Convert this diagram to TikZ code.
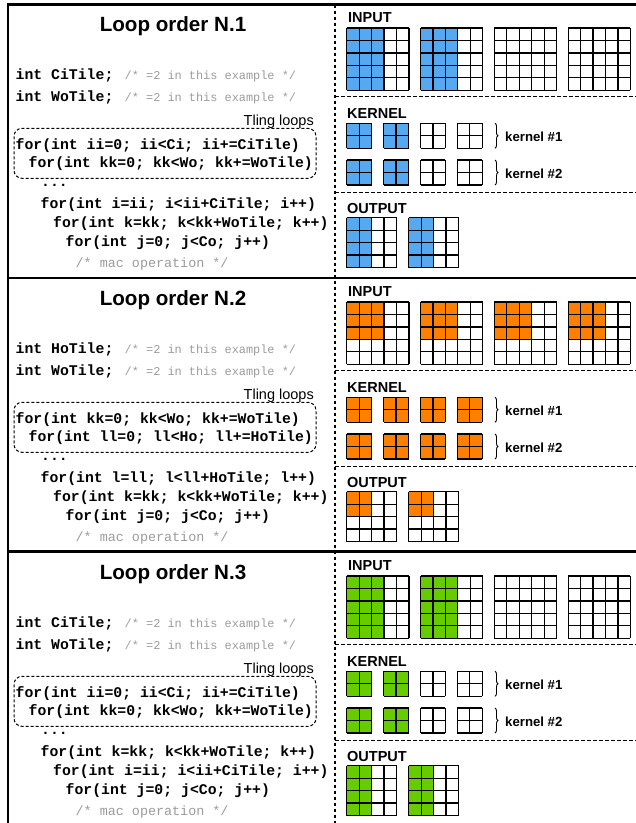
\documentclass[tikz,border=0pt]{standalone}
\usepackage{fontspec}
\setmainfont{Liberation Sans}
\newfontfamily\codefont{Liberation Mono}
\usetikzlibrary{decorations.pathreplacing}
\definecolor{cblue}{RGB}{86,168,240}
\definecolor{corange}{RGB}{255,128,0}
\definecolor{cgreen}{RGB}{102,204,0}
\definecolor{cmtgray}{RGB}{155,155,155}
\tikzset{
  frame/.style={line width=2.4pt},
  sepline/.style={line width=1.2pt, dash pattern=on 3.5pt off 2.5pt},
  gridline/.style={line width=1.2pt, line cap=square},
  title/.style={anchor=base, inner sep=0pt, font=\bfseries\fontsize{20.6}{24}\selectfont},
  code/.style={anchor=base west, inner sep=0pt, font=\codefont\bfseries\fontsize{14.8}{18}\selectfont},
  cmt/.style={anchor=base west, inner sep=0pt, text=cmtgray, font=\codefont\fontsize{11.9}{14}\selectfont},
  maccmt/.style={anchor=base west, inner sep=0pt, text=cmtgray, font=\codefont\fontsize{13.4}{16}\selectfont},
  tling/.style={anchor=base east, inner sep=0pt, font=\fontsize{14.5}{17}\selectfont},
  lbl/.style={anchor=base west, inner sep=0pt, font=\bfseries\fontsize{14.5}{17}\selectfont},
  klbl/.style={anchor=base west, inner sep=0pt, font=\bfseries\fontsize{13.2}{15}\selectfont},
  tilebox/.style={line width=1pt, dash pattern=on 3pt off 2pt, rounded corners=8pt},
  kbrace/.style={line width=0.9pt, decorate, decoration={brace, amplitude=3pt}}
}
% x y cols rows fillcols fillrows color
\newcommand\mygrid[7]{%
  \begin{scope}[shift={(#1,#2)}, x=12.45pt, y=-12.45pt]
    \fill[#7] (0,0) rectangle (#5,#6);
    \foreach \i in {0,...,#3} \draw[gridline] (\i,0) -- (\i,#4);
    \foreach \j in {0,...,#4} \draw[gridline] (0,\j) -- (#3,\j);
  \end{scope}}
% color, #input grids filled, in fill cols, in fill rows, #kernels filled, out fill cols, out fill rows, suffix
\newcommand\gridpanel[8]{%
  \node[lbl] (input#8) at (348,22.7) {INPUT};
  \foreach \k in {0,1,2,3} {
    \pgfmathtruncatemacro\filled{\k<#2 ? 1 : 0}
    \ifnum\filled=1 \mygrid{346.7+73.8*\k}{28}{5}{5}{#3}{#4}{#1}\else \mygrid{346.7+73.8*\k}{28}{5}{5}{0}{0}{#1}\fi
  }
  \node[lbl] (kernel#8) at (347,118.3) {KERNEL};
  \foreach \r in {0,1} {
    \foreach \k in {0,1,2,3} {
      \pgfmathtruncatemacro\filled{\k<#5 ? 1 : 0}
      \ifnum\filled=1 \mygrid{346.7+36.9*\k}{123.3+36.7*\r}{2}{2}{2}{2}{#1}\else \mygrid{346.7+36.9*\k}{123.3+36.7*\r}{2}{2}{0}{0}{#1}\fi
    }
  }
  \draw[kbrace] (495,123.3) -- (495,148.3);
  \draw[kbrace] (495,160) -- (495,185);
  \node[klbl] (ka#8) at (505,141.7) {kernel \#1};
  \node[klbl] (kb#8) at (505,178.3) {kernel \#2};
  \node[lbl] (output#8) at (347,213.3) {OUTPUT};
  \foreach \k in {0,1} {
    \mygrid{346.7+62*\k}{217.7}{4}{4}{#6}{#7}{#1}
  }
  \draw[sepline] (335,96.7) -- (636,96.7);
  \draw[sepline] (335,192.7) -- (636,192.7);
}
\begin{document}
\begin{tikzpicture}[x=1pt, y=-1pt]
\useasboundingbox (0,0) rectangle (636,823);
% frame
\draw[frame] (8,823) -- (8,4.5) -- (636,4.5);
\draw[frame] (8,277.8) -- (636,277.8);
\draw[frame] (8,551.5) -- (636,551.5);
\draw[sepline] (335,4.5) -- (335,823);

% ---------- Panel 1 ----------
\begin{scope}
\node[title] (title1) at (173,31.7) {Loop order N.1};
\node[code] (a1) at (15.5,79.3) {int CiTile;};
\node[cmt] (ac1) at (124.5,79.3) {/* =2 in this example */};
\node[code] (b1) at (15.5,101.7) {int WoTile;};
\node[cmt] (bc1) at (124.5,101.7) {/* =2 in this example */};
\node[tling] (tl1) at (314,125) {Tling loops};
\draw[tilebox] (14,128.3) rectangle (316,178.3);
\node[code] (f11) at (15.5,149) {for(int ii=0; ii<Ci; ii+=CiTile)};
\node[code] (f12) at (28.5,167.3) {for(int kk=0; kk<Wo; kk+=WoTile)};
\node[code] (d1) at (41,186) {...};
\node[code] (f13) at (40.5,208) {for(int i=ii; i<ii+CiTile; i++)};
\node[code] (f14) at (53,227) {for(int k=kk; k<kk+WoTile; k++)};
\node[code] (f15) at (65.5,246.5) {for(int j=0; j<Co; j++)};
\node[maccmt] (m1) at (75.5,267) {/* mac operation */};
\gridpanel{cblue}{2}{3}{5}{2}{2}{4}{p1}
\end{scope}

% ---------- Panel 2 ----------
\begin{scope}[yshift=-274pt]
\node[title] (title2) at (173,31.7) {Loop order N.2};
\node[code] (a2) at (15.5,79.3) {int HoTile;};
\node[cmt] (ac2) at (124.5,79.3) {/* =2 in this example */};
\node[code] (b2) at (15.5,101.7) {int WoTile;};
\node[cmt] (bc2) at (124.5,101.7) {/* =2 in this example */};
\node[tling] (tl2) at (314,125) {Tling loops};
\draw[tilebox] (14,128.3) rectangle (316,178.3);
\node[code] (f21) at (15.5,149) {for(int kk=0; kk<Wo; kk+=WoTile)};
\node[code] (f22) at (28.5,167.3) {for(int ll=0; ll<Ho; ll+=HoTile)};
\node[code] (d2) at (41,186) {...};
\node[code] (f23) at (40.5,208) {for(int l=ll; l<ll+HoTile; l++)};
\node[code] (f24) at (53,227) {for(int k=kk; k<kk+WoTile; k++)};
\node[code] (f25) at (65.5,246.5) {for(int j=0; j<Co; j++)};
\node[maccmt] (m2) at (75.5,267) {/* mac operation */};
\gridpanel{corange}{4}{3}{3}{4}{2}{2}{p2}
\end{scope}

% ---------- Panel 3 ----------
\begin{scope}[yshift=-548pt]
\node[title] (title3) at (173,31.7) {Loop order N.3};
\node[code] (a3) at (15.5,79.3) {int CiTile;};
\node[cmt] (ac3) at (124.5,79.3) {/* =2 in this example */};
\node[code] (b3) at (15.5,101.7) {int WoTile;};
\node[cmt] (bc3) at (124.5,101.7) {/* =2 in this example */};
\node[tling] (tl3) at (314,125) {Tling loops};
\draw[tilebox] (14,128.3) rectangle (316,178.3);
\node[code] (f31) at (15.5,149) {for(int ii=0; ii<Ci; ii+=CiTile)};
\node[code] (f32) at (28.5,167.3) {for(int kk=0; kk<Wo; kk+=WoTile)};
\node[code] (d3) at (41,186) {...};
\node[code] (f33) at (40.5,208) {for(int k=kk; k<kk+WoTile; k++)};
\node[code] (f34) at (53,227) {for(int i=ii; i<ii+CiTile; i++)};
\node[code] (f35) at (65.5,246.5) {for(int j=0; j<Co; j++)};
\node[maccmt] (m3) at (75.5,267) {/* mac operation */};
\gridpanel{cgreen}{2}{3}{5}{2}{2}{4}{p3}
\end{scope}
\end{tikzpicture}
\end{document}
